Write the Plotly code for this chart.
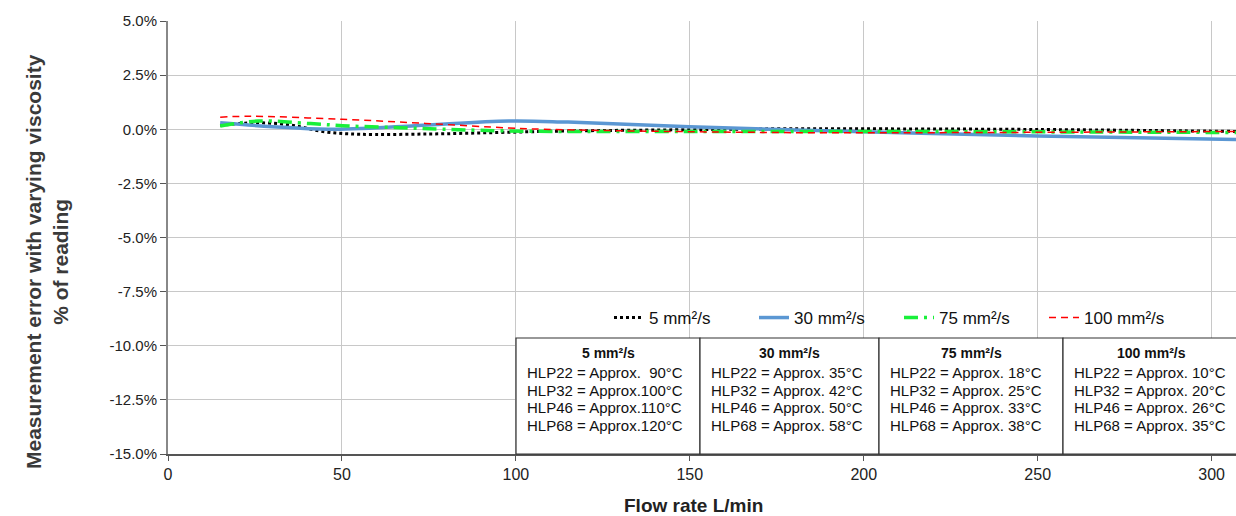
import plotly.graph_objects as go

# ---------------- data ----------------
flow_5 = [15, 25, 35, 45, 55, 75, 95, 115, 150, 175, 200, 250, 307]
err_5 = [0.18, 0.30, 0.20, -0.12, -0.23, -0.22, -0.15, -0.08, -0.02, 0.02, 0.02, -0.01, -0.10]

flow_30 = [15, 30, 46, 70, 98, 115, 150, 200, 250, 307]
err_30 = [0.30, 0.12, 0.00, 0.15, 0.38, 0.33, 0.12, -0.12, -0.31, -0.47]

flow_75 = [15, 26, 41, 52, 65, 79, 103, 150, 200, 250, 307]
err_75 = [0.15, 0.38, 0.26, 0.15, 0.08, 0.00, -0.09, -0.10, -0.10, -0.12, -0.15]

flow_100 = [15, 24, 50, 74, 98, 108, 130, 183, 234, 307]
err_100 = [0.56, 0.60, 0.46, 0.27, 0.06, 0.00, -0.07, -0.16, -0.15, -0.10]

series_names = ["5 mm²/s", "30 mm²/s", "75 mm²/s", "100 mm²/s"]

x_ticks = [0, 50, 100, 150, 200, 250, 300]
y_ticks = [5.0, 2.5, 0.0, -2.5, -5.0, -7.5, -10.0, -12.5, -15.0]

table_headers = ["5 mm²/s", "30 mm²/s", "75 mm²/s", "100 mm²/s"]
table_rows = [
    ["HLP22 = Approx.\u00a0 90°C", "HLP32 = Approx.100°C", "HLP46 = Approx.110°C", "HLP68 = Approx.120°C"],
    ["HLP22 = Approx. 35°C", "HLP32 = Approx. 42°C", "HLP46 = Approx. 50°C", "HLP68 = Approx. 58°C"],
    ["HLP22 = Approx. 18°C", "HLP32 = Approx. 25°C", "HLP46 = Approx. 33°C", "HLP68 = Approx. 38°C"],
    ["HLP22 = Approx. 10°C", "HLP32 = Approx. 20°C", "HLP46 = Approx. 26°C", "HLP68 = Approx. 35°C"],
]

# ---------------- layout helpers (pixels -> paper) ----------------
W, H = 1236, 516
L, R, T, B = 168, 0, 21, 62
PW = W - L - R
PH = H - T - B


def px_x(p):
    return (p - L) / PW


def px_y(p):
    return (H - B - p) / PH


NARROW = "Liberation Sans Narrow, Arial Narrow, Liberation Sans, Arial, sans-serif"
REG = "Liberation Sans, Arial, sans-serif"

fig = go.Figure()
fig.add_trace(go.Scatter(x=flow_5, y=err_5, name=series_names[0], mode="lines",
                         line=dict(color="#000000", width=3, dash="dot", shape="spline")))
fig.add_trace(go.Scatter(x=flow_30, y=err_30, name=series_names[1], mode="lines",
                         line=dict(color="#5b97d3", width=3.5, shape="spline")))
fig.add_trace(go.Scatter(x=flow_75, y=err_75, name=series_names[2], mode="lines",
                         line=dict(color="#19f03a", width=3.5, dash="14px,6px,3px,6px", shape="spline")))
fig.add_trace(go.Scatter(x=flow_100, y=err_100, name=series_names[3], mode="lines",
                         line=dict(color="#ff0000", width=1.5, dash="7px,5px", shape="spline")))

shapes = []
annotations = []
# white legend background
shapes.append(dict(type="rect", xref="paper", yref="paper",
                   x0=px_x(519), x1=px_x(1210), y0=px_y(338), y1=px_y(295),
                   fillcolor="white", line=dict(width=0), layer="between"))

# table cells
cell_edges = [516, 700, 879, 1063, 1245]
line_centers = [372, 390, 407, 425]
for i in range(4):
    right = cell_edges[i + 1] if i < 3 else 1240
    shapes.append(dict(type="rect", xref="paper", yref="paper",
                       x0=px_x(cell_edges[i]), x1=px_x(cell_edges[i + 1]),
                       y0=px_y(454), y1=px_y(338),
                       fillcolor="white", line=dict(color="#333333", width=1.2), layer="above"))
    annotations.append(dict(xref="paper", yref="paper",
                            x=px_x((cell_edges[i] + right) / 2),
                            y=px_y(353), text="<b>" + table_headers[i] + "</b>",
                            showarrow=False, xanchor="center", yanchor="middle",
                            font=dict(family=NARROW, size=14, color="#111111")))
    for j, row_text in enumerate(table_rows[i]):
        annotations.append(dict(xref="paper", yref="paper",
                                x=px_x(cell_edges[i] + 9), y=px_y(line_centers[j]),
                                text=row_text, align="left",
                                showarrow=False, xanchor="left", yanchor="middle",
                                font=dict(family=NARROW, size=15, color="#111111")))

# axis titles
annotations.append(dict(xref="paper", yref="paper", x=px_x(47), y=px_y(262),
                        text="<b>Measurement error with varying viscosity<br>% of reading</b>",
                        textangle=-90, showarrow=False, xanchor="center", yanchor="middle",
                        font=dict(family=NARROW, size=21, color="#3a3a3a")))
annotations.append(dict(xref="paper", yref="paper", x=px_x(693), y=px_y(505),
                        text="<b>Flow rate L/min</b>", showarrow=False,
                        xanchor="center", yanchor="middle",
                        font=dict(family=NARROW, size=19, color="#222222")))

fig.update_layout(
    width=W, height=H,
    margin=dict(l=L, r=R, t=T, b=B, pad=0),
    paper_bgcolor="white", plot_bgcolor="white",
    showlegend=True,
    legend=dict(orientation="h", x=px_x(609), xanchor="left", y=px_y(318), yanchor="middle",
                bgcolor="rgba(0,0,0,0)", font=dict(family=REG, size=17, color="#111111"),
                itemwidth=30, entrywidth=100, entrywidthmode="pixels",
                tracegroupgap=0),
    shapes=shapes,
    annotations=annotations,
    xaxis=dict(range=[0, 307], tickvals=x_ticks, ticktext=[str(v) for v in x_ticks],
               showgrid=True, gridcolor="#c8c8c8", gridwidth=1,
               showline=True, linecolor="#555555", linewidth=1.5,
               ticks="outside", ticklen=5, tickcolor="#555555",
               tickfont=dict(family=NARROW, size=16, color="#222222"),
               zeroline=False, fixedrange=True),
    yaxis=dict(range=[-15, 5], tickvals=y_ticks,
               ticktext=[f"{v:.1f}%" for v in y_ticks],
               showgrid=True, gridcolor="#c8c8c8", gridwidth=1,
               showline=True, linecolor="#888888", linewidth=2,
               ticks="outside", ticklen=6, tickcolor="#555555",
               tickfont=dict(family=REG, size=15, color="#222222"),
               zeroline=False, fixedrange=True),
)

fig.write_html("out.html", config={"displayModeBar": False},
               post_script="document.body.style.margin='0';")
